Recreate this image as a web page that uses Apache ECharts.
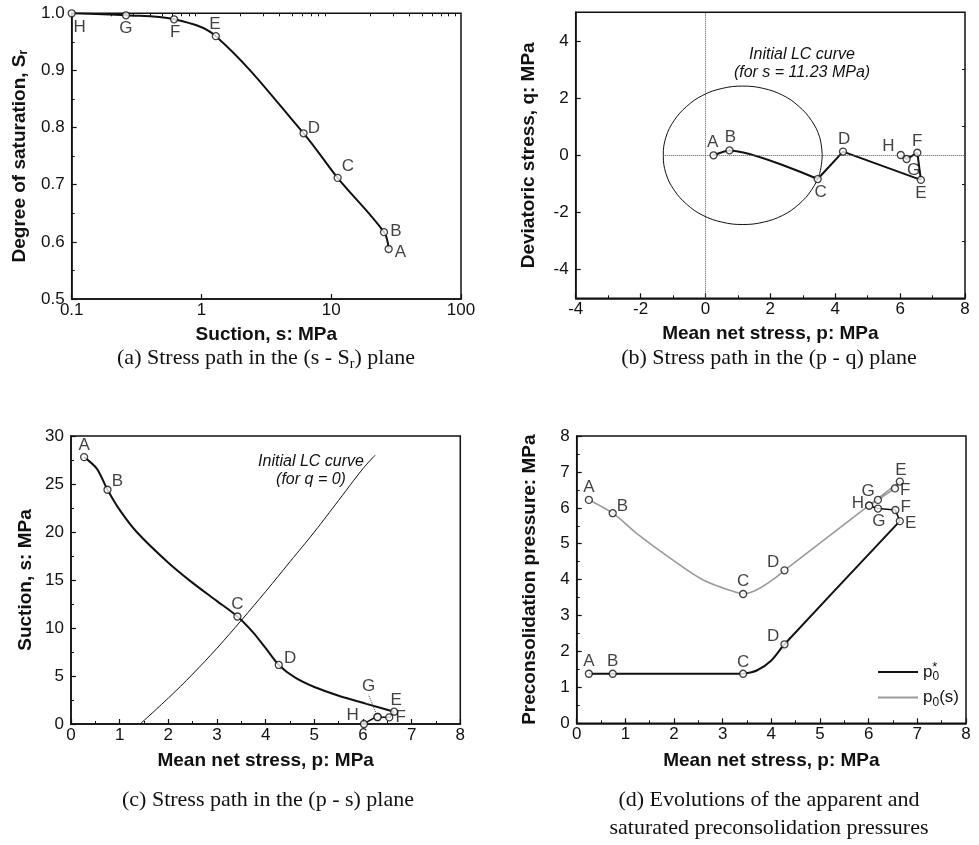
<!DOCTYPE html>
<html><head><meta charset="utf-8">
<script src="https://cdn.jsdelivr.net/npm/echarts@6/dist/echarts.min.js"></script>
<style>html,body{margin:0;padding:0;background:#fff}#c{width:979px;height:845px}</style>
</head><body><div id="c"></div>
<script>
// ---------- data ----------
const ptNames = ['A','B','C','D','E','F','G','H'];
// (a) s - Sr plane
const aSuction = [27.7, 25.5, 11.2, 6.12, 1.29, 0.615, 0.262, 0.1];
const aSr      = [0.5875, 0.617, 0.712, 0.790, 0.960, 0.9895, 0.9965, 1.0];
const aMinorTicks = [0.2,0.3,0.4,0.5,0.6,0.7,0.8,0.9,2,3,4,5,6,7,8,9,20,30,40,50,60,70,80,90];
// (b) p - q plane
const bP = [0.25, 0.74, 3.46, 4.24, 6.64, 6.53, 6.20, 6.02];
const bQ = [0.0, 0.17, -0.83, 0.13, -0.86, 0.09, -0.13, 0.01];
const bLcP = [3.60, 3.52, 3.27, 2.88, 2.38, 1.78, 1.15, 0.52, -0.08, -0.58, -0.97, -1.22, -1.30,
              -1.22, -0.97, -0.58, -0.08, 0.52, 1.15, 1.78, 2.38, 2.88, 3.27, 3.52, 3.60];
const bLcQ = [0.00, 0.63, 1.21, 1.71, 2.10, 2.34, 2.42, 2.34, 2.10, 1.71, 1.21, 0.63, 0.00,
              -0.63, -1.21, -1.71, -2.10, -2.34, -2.42, -2.34, -2.10, -1.71, -1.21, -0.63, 0.00];
const bYLabels = [-4, -2, 0, 2, 4];
const bYMinor = [-3, -1, 1, 3];
// (c) p - s plane
const cP = [0.27, 0.75, 3.42, 4.27, 6.64, 6.54, 6.30, 6.02];
const cS = [27.8, 24.4, 11.2, 6.15, 1.28, 0.69, 0.73, 0.0];
// traced stress path A..E
const cPathP = [0.27, 0.53, 0.75, 1.0, 1.35, 2.0, 2.5, 3.0, 3.42, 3.75, 4.0, 4.27, 4.6, 5.0, 5.5, 6.07, 6.64];
const cPathS = [27.8, 26.6, 24.4, 22.3, 20.0, 16.8, 14.7, 12.8, 11.2, 9.5, 7.9, 6.15, 4.85, 3.85, 2.95, 2.1, 1.28];
const cLcP = [1.42, 2.0, 2.5, 3.0, 3.5, 4.0, 4.5, 5.0, 5.5, 6.0, 6.25];
const cLcS = [0.0, 2.7, 5.2, 7.9, 10.8, 13.8, 16.9, 20.0, 23.3, 26.6, 28.0];
// (d) preconsolidation pressures
const dP      = [0.25, 0.74, 3.42, 4.27, 6.64, 6.55, 6.19, 6.01];
const dP0star = [1.38, 1.38, 1.38, 2.20, 5.63, 5.94, 5.98, 6.06];
const dPs     = [0.25, 0.74, 3.42, 4.27, 6.64, 6.54, 6.19, 6.01];
const dP0s    = [6.22, 5.85, 3.60, 4.26, 6.73, 6.54, 6.22, 6.06];
// traced curves
const dStarPathP = [3.42, 3.7, 4.0, 4.27, 6.64];
const dStarPathV = [1.38, 1.47, 1.75, 2.20, 5.63];
const dSPathP = [0.25, 0.74, 1.23, 1.92, 2.6, 3.29, 3.42, 4.27];
const dSPathV = [6.22, 5.85, 5.29, 4.60, 3.99, 3.64, 3.60, 4.26];

// ---------- styles ----------
const FONT = '"Liberation Sans", Arial, sans-serif';
const SERIF = '"Liberation Serif", "Times New Roman", serif';
const INK = '#111';
const TICKFS = 17, LABFS = 17, NAMEFS = 19;
const labA = {A:['right',[0,3]],B:['right',[0,-1]],C:['right',[-2,-12]],D:['right',[-2,-5]],E:['top',[-1,3]],F:['bottom',[1,-2]],G:['bottom',[0,-2]],H:['bottom',[8,-1]]};
const labB = {A:['top',[-1,2]],B:['top',[1,2]],C:['bottom',[3,-1]],D:['top',[1,2]],E:['bottom',[0,-1]],F:['top',[0,3]],G:['bottom',[7,-3]],H:['left',[0,-9]]};
const labC = {A:['top',[0,3]],B:['right',[-2,-8]],C:['top',[0,2]],D:['right',[-1,-7]],E:['top',[2,3]],F:['right',[0,0]],H:['left',[1,-9]]};
const labD1 = {A:['top',[0,2]],B:['top',[0,2]],C:['top',[0,3]],D:['left',[1,-8]],E:['right',[-1,2]],F:['right',[-1,-3]],G:['bottom',[1,-2]],H:['left',[1,-2]]};
const labD2 = {A:['top',[0,2]],B:['right',[-2,-7]],C:['top',[0,2]],D:['left',[1,-8]],E:['top',[1,3]],F:['right',[-1,2]],G:['left',[3,-9]]};

function pts(xs, ys, pos) {
  return xs.map((x, i) => {
    const item = {value: [x, ys[i]], name: ptNames[i]};
    const p = pos[ptNames[i]];
    item.label = p ? {show: true, position: p[0], offset: p[1]} : {show: false};
    return item;
  });
}
function path(xs, ys, from, to) {
  const out = [];
  for (let i = from; i <= to; i++) out.push([xs[i], ys[i]]);
  return out;
}
function zip(xs, ys) { return xs.map((x, i) => [x, ys[i]]); }
const markerStyle = {color: '#fff', borderColor: INK, borderWidth: 1.3};
const ptLabel = {fontSize: LABFS, color: INK, fontFamily: FONT, distance: 2, formatter: '{b}'};
function markers(xi, yi, data, z) {
  return {type: 'scatter', xAxisIndex: xi, yAxisIndex: yi, symbol: 'circle', symbolSize: 7,
    itemStyle: markerStyle, label: ptLabel, data: data, z: z || 5, silent: true};
}
function line(xi, yi, data, opts) {
  return Object.assign({type: 'line', xAxisIndex: xi, yAxisIndex: yi, symbol: 'none',
    lineStyle: {color: INK, width: 2}, data: data, z: 3, silent: true}, opts || {});
}
function lbl(extra) { return Object.assign({color: INK, fontSize: TICKFS, fontFamily: FONT, margin: 4}, extra || {}); }
function axisBase(extra) {
  const base = {
    axisLine: {show: true, onZero: false, lineStyle: {color: INK, width: 1.5}},
    axisTick: {show: true, inside: true, length: 5, lineStyle: {color: INK, width: 1.2}},
    minorTick: {show: true, splitNumber: 2, length: 3, lineStyle: {color: INK, width: 1}},
    splitLine: {show: false},
    minorSplitLine: {show: false},
    axisLabel: lbl(),
    nameLocation: 'middle',
    nameTextStyle: {fontSize: NAMEFS, fontWeight: 'bold', color: INK, fontFamily: FONT,
      rich: {sub: {fontSize: 12, fontWeight: 'bold', fontFamily: FONT, color: INK, verticalAlign: 'bottom'}}}
  };
  return Object.assign(base, extra);
}
function overlay(extra) {
  return Object.assign({
    axisLine: {show: false, onZero: false}, axisLabel: {show: false}, splitLine: {show: false},
    axisTick: {show: true, inside: true, length: 3, lineStyle: {color: INK, width: 1}}
  }, extra);
}

// axis indices: X: 0 (a), 1 (a minor), 2 (b), 3 (c), 4 (d); Y: 0 (a), 1 (b), 2 (b minor), 3 (c), 4 (d)
const option = {
  animation: false,
  backgroundColor: '#fff',
  grid: [
    {left: 71.7, top: 13.3, width: 389.3, height: 285.7},
    {left: 575.7, top: 12.3, width: 389.3, height: 286},
    {left: 71, top: 436, width: 389.3, height: 288},
    {left: 576.7, top: 436, width: 389.3, height: 287.3}
  ].map(g => Object.assign({show: true, borderColor: INK, borderWidth: 1.5, backgroundColor: 'transparent'}, g)),
  xAxis: [
    axisBase({type: 'log', logBase: 10, min: 0.1, max: 100, gridIndex: 0, minorTick: {show: false},
      name: 'Suction, s: MPa', nameGap: 26, axisLabel: lbl({margin: 3})}),
    overlay({type: 'log', logBase: 10, min: 0.1, max: 100, gridIndex: 0, axisTick: {show: true, inside: true, length: 3, customValues: aMinorTicks, lineStyle: {color: INK, width: 1}}}),
    axisBase({type: 'value', min: -4, max: 8, interval: 2, gridIndex: 1,
      name: 'Mean net stress, p: MPa', nameGap: 26, axisLabel: lbl({margin: 3})}),
    axisBase({type: 'value', min: 0, max: 8, interval: 1, gridIndex: 2,
      name: 'Mean net stress, p: MPa', nameGap: 27, axisLabel: lbl({margin: 3})}),
    axisBase({type: 'value', min: 0, max: 8, interval: 1, gridIndex: 3,
      name: 'Mean net stress, p: MPa', nameGap: 28, axisLabel: lbl({margin: 3})})
  ],
  yAxis: [
    axisBase({type: 'value', min: 0.5, max: 1.0, interval: 0.1, gridIndex: 0,
      name: 'Degree of saturation, S{sub|r}', nameGap: 42,
      axisLabel: lbl({margin: 7, formatter: v => v.toFixed(1)})}),
    axisBase({type: 'value', min: -5, max: 5, interval: 1, gridIndex: 1, minorTick: {show: false},
      name: 'Deviatoric stress, q: MPa', nameGap: 37,
      axisTick: {show: true, inside: true, length: 5, customValues: bYLabels, lineStyle: {color: INK, width: 1.2}},
      axisLabel: lbl({margin: 7, customValues: bYLabels})}),
    overlay({type: 'value', min: -5, max: 5, gridIndex: 1,
      axisTick: {show: true, inside: true, length: 3, customValues: bYMinor, lineStyle: {color: INK, width: 1}}}),
    axisBase({type: 'value', min: 0, max: 30, interval: 5, gridIndex: 2,
      name: 'Suction, s: MPa', nameGap: 36, axisLabel: lbl({margin: 7})}),
    axisBase({type: 'value', min: 0, max: 8, interval: 1, gridIndex: 3,
      name: 'Preconsolidation pressure: MPa', nameGap: 37, axisLabel: lbl({margin: 7})})
  ],
  legend: {
    left: 873, top: 656, orient: 'vertical', itemWidth: 40, itemHeight: 2, itemGap: 6,
    data: [
      {name: 'p0*', icon: 'rect', itemStyle: {color: INK, borderWidth: 0}},
      {name: 'p0(s)', icon: 'rect', itemStyle: {color: '#9a9a9a', borderWidth: 0}}
    ],
    formatter: n => n === 'p0*' ? '{p|p}{s|0}{u|*}' : '{p|p}{s|0}{p|(s)}',
    textStyle: {color: INK, fontFamily: FONT, fontSize: 17, rich: {
      p: {fontSize: 17, fontFamily: FONT, color: INK, lineHeight: 22},
      s: {fontSize: 12, fontFamily: FONT, color: INK, verticalAlign: 'bottom', lineHeight: 22, padding: [7, 0, 0, 0]},
      u: {fontSize: 13, fontFamily: FONT, color: INK, verticalAlign: 'top', lineHeight: 22, padding: [0, 0, 5, -7]}
    }}
  },
  series: [
    // (a)
    line(0, 0, path(aSuction, aSr, 0, 7), {smooth: 0.35}),
    markers(0, 0, pts(aSuction, aSr, labA)),
    // (b)
    line(2, 1, zip(bLcP, bLcQ), {smooth: 0.4, lineStyle: {color: INK, width: 1},
      markLine: {silent: true, symbol: ['none', 'none'], label: {show: false},
        lineStyle: {type: 'dotted', color: '#555', width: 1},
        data: [{xAxis: 0}, [{coord: [Math.min(...bLcP), 0]}, {coord: [8, 0]}]]}}),
    line(2, 1, path(bP, bQ, 0, 2), {smooth: 0.25}),
    line(2, 1, path(bP, bQ, 2, 7)),
    markers(2, 1, pts(bP, bQ, labB)),
    // (c)
    line(3, 3, zip(cLcP, cLcS), {smooth: 0.4, lineStyle: {color: INK, width: 1}}),
    line(3, 3, zip(cPathP, cPathS), {smooth: 0.3}),
    line(3, 3, path(cP, cS, 4, 7), {smooth: 0.2, lineStyle: {color: INK, width: 1.6}}),
    markers(3, 3, pts(cP, cS, labC)),
    {type: 'scatter', xAxisIndex: 3, yAxisIndex: 3, symbol: 'circle', symbolSize: 7, itemStyle: markerStyle, z: 6, silent: true,
      data: [{value: [cP[6], cS[6]], name: ptNames[6]}],
      label: Object.assign({}, ptLabel, {show: true, position: 'top'}),
      labelLayout: {dx: -9, dy: -16},
      labelLine: {show: true, lineStyle: {color: '#444', width: 1, type: 'dotted'}}},
    // (d)
    line(4, 4, zip(dSPathP, dSPathV), {name: 'p0(s)', smooth: 0.35, lineStyle: {color: '#9a9a9a', width: 1.6}}),
    line(4, 4, path(dPs, dP0s, 3, 7), {lineStyle: {color: '#9a9a9a', width: 1.6}}),
    line(4, 4, path(dP, dP0star, 0, 2), {name: 'p0*'}),
    line(4, 4, zip(dStarPathP, dStarPathV), {smooth: 0.3}),
    line(4, 4, path(dP, dP0star, 4, 7), {lineStyle: {color: INK, width: 1.6}}),
    markers(4, 4, pts(dPs, dP0s, labD2)),
    markers(4, 4, pts(dP, dP0star, labD1), 6)
  ],
  graphic: [
    {type: 'text', x: 802, y: 55, style: {text: 'Initial LC curve', fontSize: 16, fontStyle: 'italic', fontFamily: FONT, fill: INK, align: 'center', verticalAlign: 'middle'}},
    {type: 'text', x: 802, y: 73, style: {text: '(for s = 11.23 MPa)', fontSize: 16, fontStyle: 'italic', fontFamily: FONT, fill: INK, align: 'center', verticalAlign: 'middle'}},
    {type: 'text', x: 311, y: 462, style: {text: 'Initial LC curve', fontSize: 16, fontStyle: 'italic', fontFamily: FONT, fill: INK, align: 'center', verticalAlign: 'middle'}},
    {type: 'text', x: 311, y: 480, style: {text: '(for q = 0)', fontSize: 16, fontStyle: 'italic', fontFamily: FONT, fill: INK, align: 'center', verticalAlign: 'middle'}},
    {type: 'text', x: 266, y: 358, style: {text: '(a) Stress path in the (s - S{r|r}) plane', fontSize: 22, fontFamily: SERIF, fill: INK, align: 'center', verticalAlign: 'middle',
      rich: {r: {fontSize: 14, fontFamily: SERIF, fill: INK, verticalAlign: 'bottom', padding: [13, 0, 0, 0]}}}},
    {type: 'text', x: 769, y: 358, style: {text: '(b) Stress path in the (p - q) plane', fontSize: 22, fontFamily: SERIF, fill: INK, align: 'center', verticalAlign: 'middle'}},
    {type: 'text', x: 268, y: 800, style: {text: '(c) Stress path in the (p - s) plane', fontSize: 22, fontFamily: SERIF, fill: INK, align: 'center', verticalAlign: 'middle'}},
    {type: 'text', x: 769, y: 800, style: {text: '(d) Evolutions of the apparent and', fontSize: 22, fontFamily: SERIF, fill: INK, align: 'center', verticalAlign: 'middle'}},
    {type: 'text', x: 769, y: 828, style: {text: 'saturated preconsolidation pressures', fontSize: 22, fontFamily: SERIF, fill: INK, align: 'center', verticalAlign: 'middle'}}
  ]
};
const chart = echarts.init(document.getElementById('c'), null, {renderer: 'canvas'});
chart.setOption(option);
</script>
</body></html>
